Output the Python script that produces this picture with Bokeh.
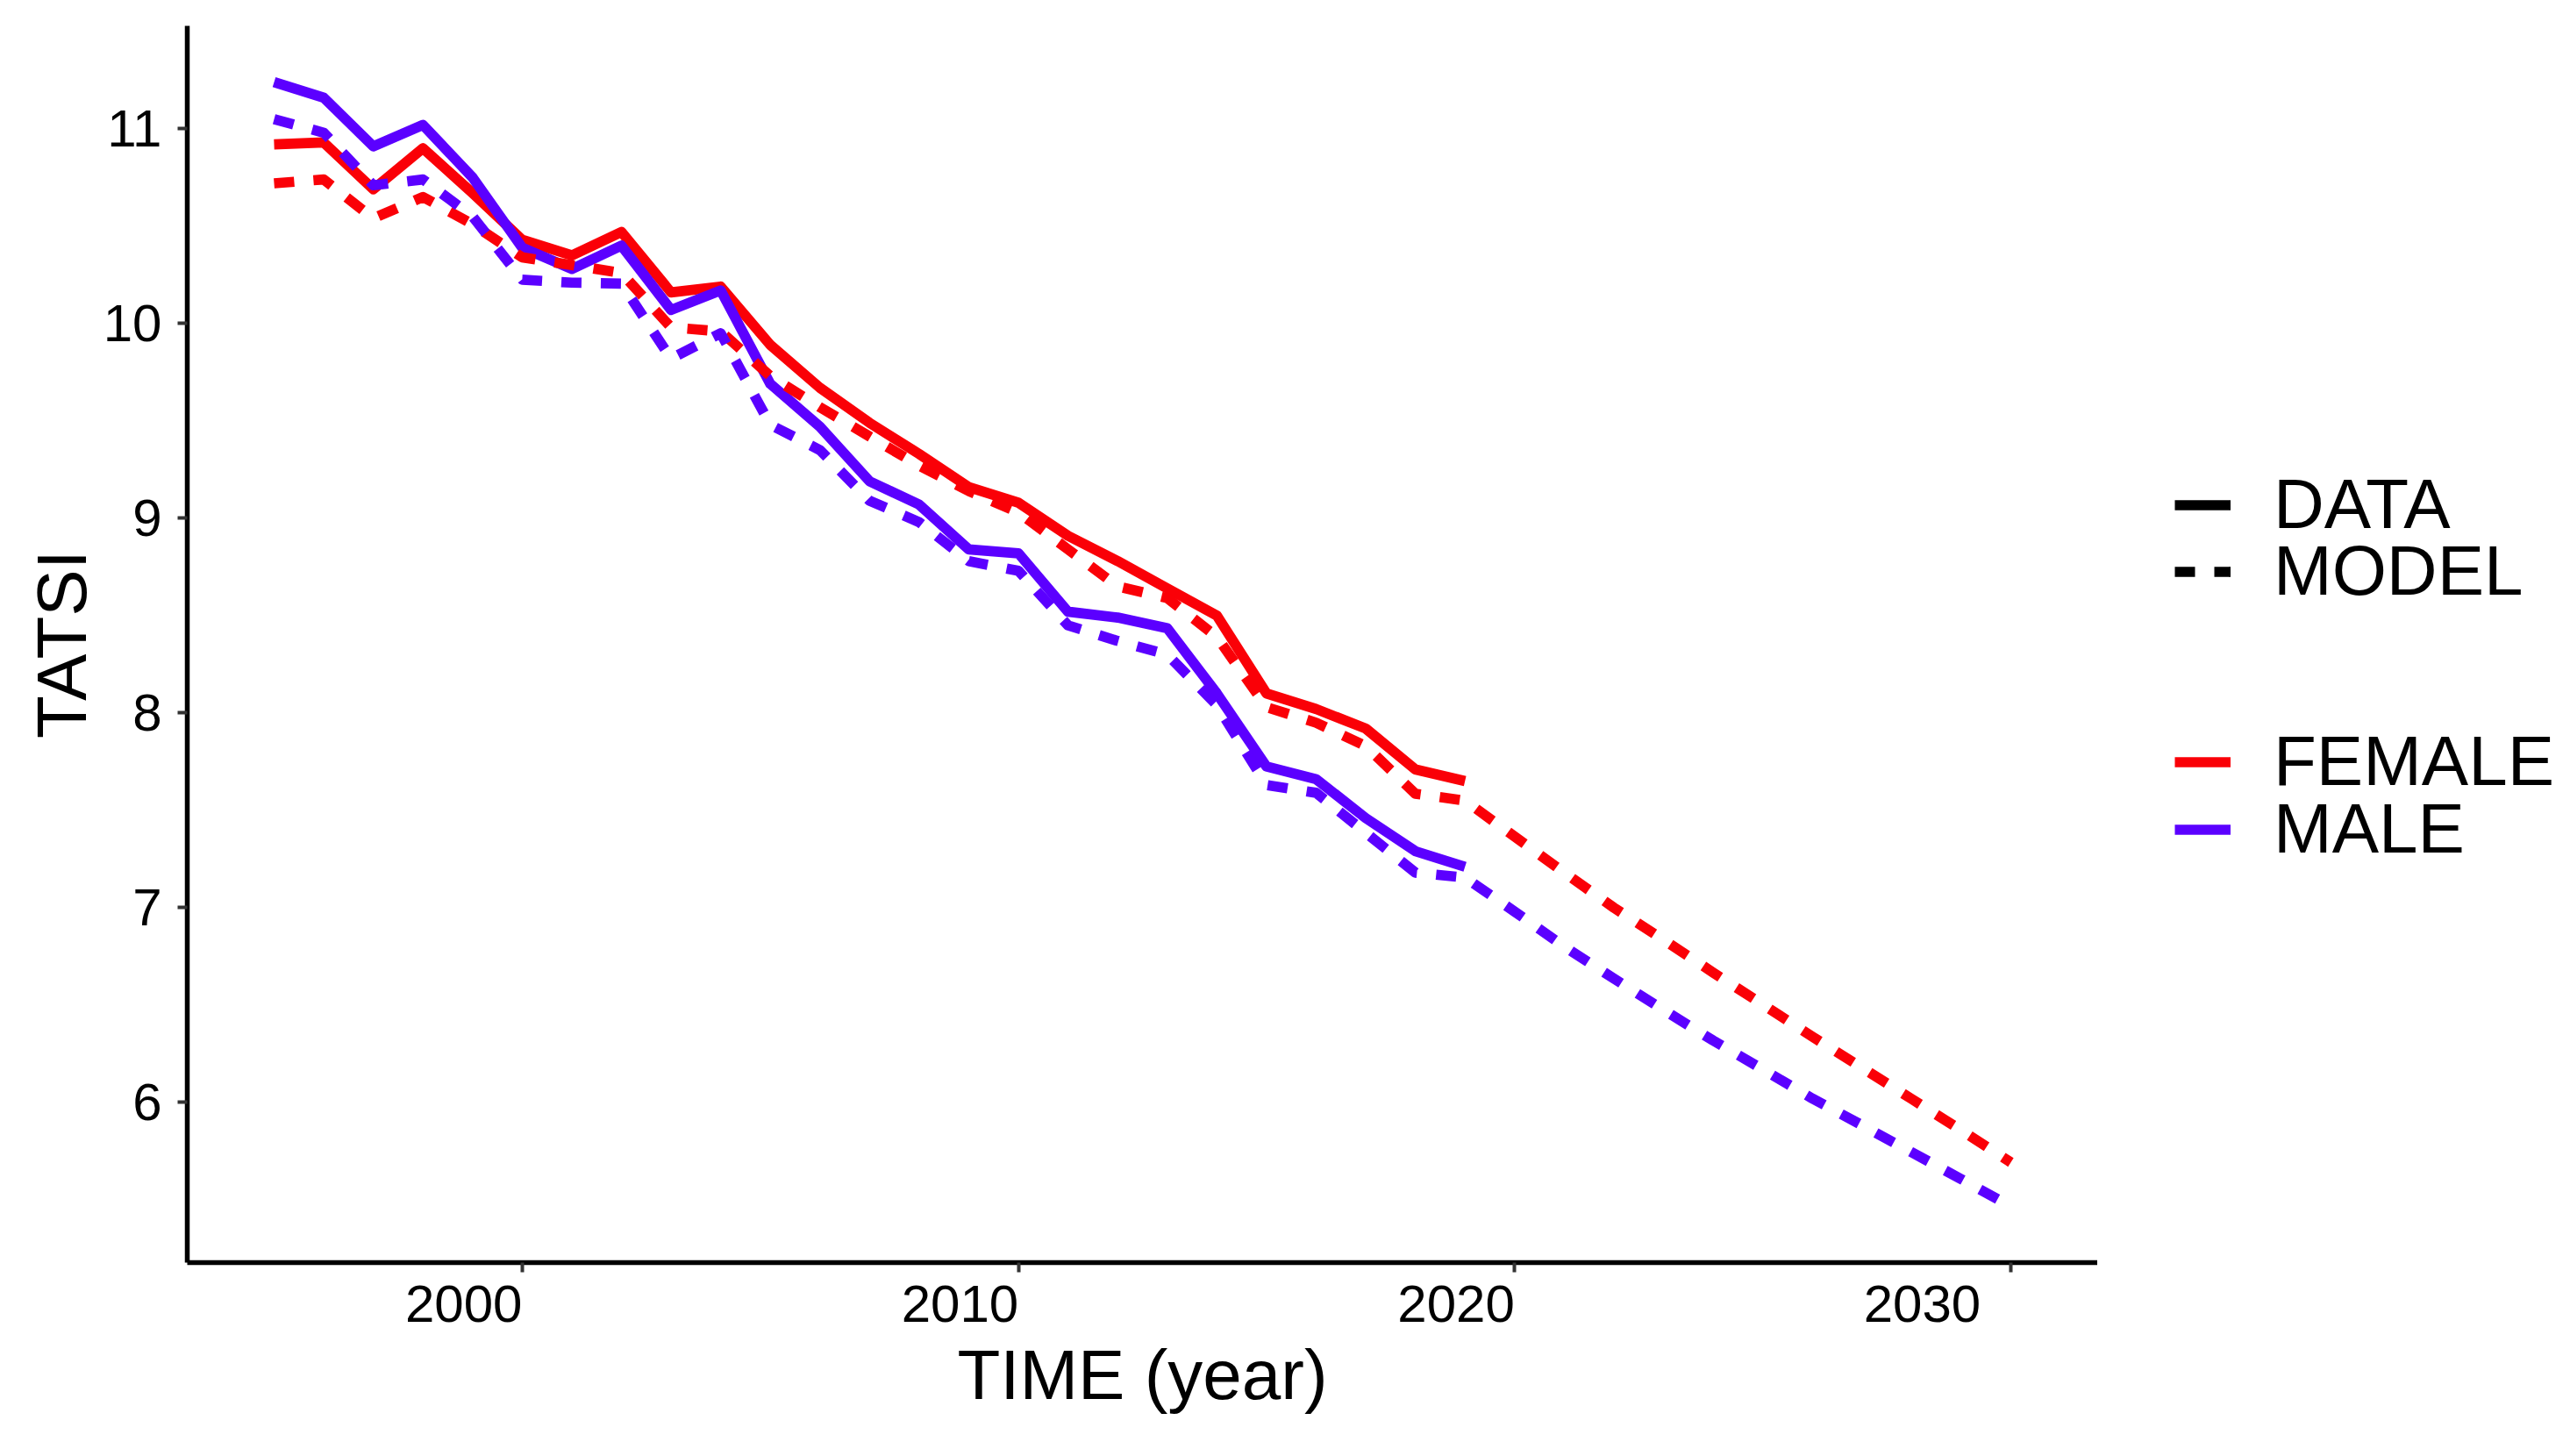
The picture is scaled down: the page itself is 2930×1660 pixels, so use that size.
from bokeh.plotting import figure
from bokeh.models import Range1d, FixedTicker, Legend, LegendItem
from bokeh.layouts import row
from bokeh.embed import file_html
from bokeh.resources import INLINE

# ---------------- data ----------------
years_data = list(range(1995, 2020))
years_model = list(range(1995, 2031))

female_data = [10.92, 10.93, 10.69, 10.90, 10.67, 10.43, 10.35, 10.47, 10.16, 10.19,
               9.89, 9.67, 9.49, 9.33, 9.16, 9.08, 8.91, 8.78, 8.64, 8.50,
               8.10, 8.02, 7.92, 7.71, 7.65]
male_data = [11.24, 11.16, 10.91, 11.02, 10.75, 10.39, 10.28, 10.40, 10.07, 10.17,
             9.69, 9.47, 9.19, 9.07, 8.84, 8.82, 8.52, 8.49, 8.435, 8.10,
             7.725, 7.66, 7.46, 7.29, 7.21]

female_model = [10.72, 10.74, 10.54, 10.65, 10.51, 10.34, 10.30, 10.26, 9.98, 9.96,
                9.73, 9.57, 9.42, 9.27, 9.14, 9.03, 8.84, 8.65, 8.59, 8.39,
                8.03, 7.95, 7.83, 7.585, 7.55, 7.365, 7.18, 7.00, 6.835, 6.667,
                6.503, 6.338, 6.178, 6.018, 5.857, 5.692]
male_model = [11.05, 10.98, 10.71, 10.74, 10.55, 10.225, 10.21, 10.205, 9.82, 9.95,
              9.48, 9.35, 9.09, 8.98, 8.78, 8.73, 8.45, 8.37, 8.30, 8.04,
              7.63, 7.59, 7.385, 7.18, 7.155, 6.98, 6.80, 6.636, 6.475, 6.318,
              6.17, 6.02, 5.883, 5.744, 5.606, 5.466]

x_ticks = [2000, 2010, 2020, 2030]
y_ticks = [6, 7, 8, 9, 10, 11]
x_title = "TIME (year)"
y_title = "TATSI"
linetype_labels = ["DATA", "MODEL"]
sex_labels = ["FEMALE", "MALE"]

# ---------------- style ----------------
RED = "#FA0007"
PURPLE = "#5B00FF"
FONT = "Liberation Sans"
LW = 11.7
DASH = "23 22"
NAN = float("nan")

# ggplot-like 5% expansion of the data ranges
xmin, xmax = min(years_model), max(years_model)
xpad = 0.05 * (xmax - xmin)
all_y = female_data + male_data + female_model + male_model
ymin, ymax = min(all_y), max(all_y)
ypad = 0.05 * (ymax - ymin)

p = figure(width=2391, height=1644,
           x_range=Range1d(xmin - xpad, xmax + xpad),
           y_range=Range1d(ymin - ypad, ymax + ypad),
           output_backend="svg", toolbar_location=None,
           min_border_left=213, min_border_right=0,
           min_border_top=29, min_border_bottom=205)

p.background_fill_color = "white"
p.border_fill_color = "white"
p.outline_line_color = None
p.xgrid.visible = False
p.ygrid.visible = False

r_fd = p.line(years_data, female_data, line_color=RED, line_width=LW, line_join="round")
r_md = p.line(years_data, male_data, line_color=PURPLE, line_width=LW, line_join="round")
r_fm = p.line(years_model, female_model, line_color=RED, line_width=LW,
              line_dash=DASH, line_join="round")
r_mm = p.line(years_model, male_model, line_color=PURPLE, line_width=LW,
              line_dash=DASH, line_join="round")

# axes
p.xaxis.ticker = FixedTicker(ticks=x_ticks)
p.yaxis.ticker = FixedTicker(ticks=y_ticks)
p.xaxis.major_label_overrides = {t: str(t) + "\u00a0" * 8 for t in x_ticks}
p.xaxis.axis_label = x_title
p.yaxis.axis_label = y_title

for ax in (p.xaxis[0], p.yaxis[0]):
    ax.axis_line_color = "black"
    ax.axis_line_width = 5.5
    ax.major_tick_line_color = "#333333"
    ax.major_tick_line_width = 4
    ax.major_tick_out = 11
    ax.major_tick_in = 0
    ax.minor_tick_line_color = None
    ax.major_label_text_font = FONT
    ax.major_label_text_font_size = "60px"
    ax.major_label_text_color = "black"
    ax.axis_label_text_font = FONT
    ax.axis_label_text_font_size = "80px"
    ax.axis_label_text_font_style = "normal"
    ax.axis_label_text_color = "black"

p.xaxis.major_label_standoff = 2
p.yaxis.major_label_standoff = 18
p.xaxis.axis_label_standoff = 0
p.yaxis.axis_label_standoff = 0

# ---------------- legend panel (second figure, no axes) ----------------
q = figure(width=523, height=1644, x_range=Range1d(0, 1), y_range=Range1d(0, 1),
           output_backend="svg", toolbar_location=None,
           x_axis_location=None, y_axis_location=None, min_border=0)
q.outline_line_color = None
q.grid.visible = False
q.background_fill_color = "white"
q.border_fill_color = "white"

# legend key renderers (draw nothing themselves, only give the key styles)
k_data = q.line(x=[NAN], y=[NAN], line_color="black", line_width=LW)
k_model = q.line(x=[NAN], y=[NAN], line_color="black", line_width=LW, line_dash=DASH)
k_f = q.line(x=[NAN], y=[NAN], line_color=RED, line_width=LW)
k_m = q.line(x=[NAN], y=[NAN], line_color=PURPLE, line_width=LW)

def make_legend(label, renderer, loc):
    lg = Legend(items=[LegendItem(label=label, renderers=[renderer])],
                location=loc, orientation="vertical")
    lg.label_text_font = FONT
    lg.label_text_font_size = "80px"
    lg.label_text_color = "black"
    lg.glyph_width = 64
    lg.glyph_height = 77
    lg.label_height = 77
    lg.label_standoff = 49
    lg.padding = 0
    lg.margin = 0
    lg.spacing = 0
    lg.border_line_color = None
    lg.background_fill_alpha = 0
    return lg

for lab, rend, ypos in [(linetype_labels[0], k_data, 818),
                        (linetype_labels[1], k_model, 742),
                        (sex_labels[0], k_f, 525),
                        (sex_labels[1], k_m, 448)]:
    q.add_layout(make_legend(lab, rend, (88, ypos)))

layout = row(p, q, spacing=0)
open("out.html", "w").write(file_html(layout, INLINE))
